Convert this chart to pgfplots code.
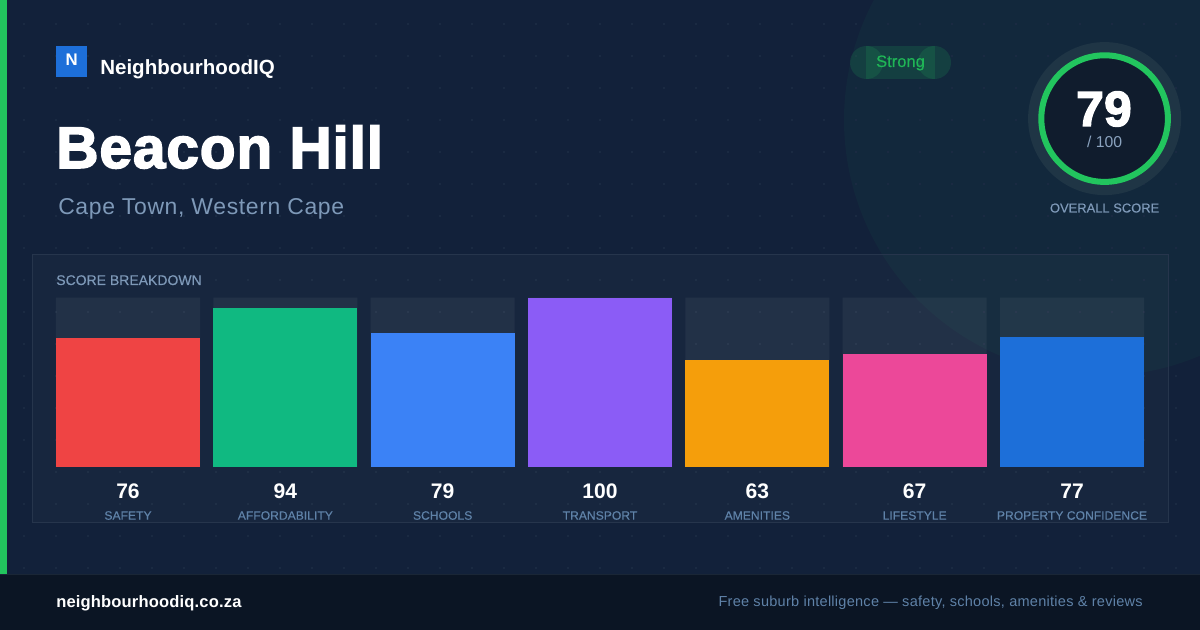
\documentclass[border=0pt]{standalone}
\usepackage{pgfplots}
\pgfplotsset{compat=1.18}
\usepackage{fontspec}
\setmainfont{Liberation Sans}
\newfontfamily\blackf{Liberation Sans}[UprightFont=* Bold,FakeBold=2.6,LetterSpace=1.4]
\newfontfamily\numf{Liberation Sans}[UprightFont=* Bold,FakeBold=3.0,LetterSpace=1.0]
\newfontfamily\subf{Liberation Sans}[LetterSpace=2.8]
\newfontfamily\medf{Liberation Sans}[FakeBold=0.35]
\newfontfamily\footf{Liberation Sans}[LetterSpace=1.8]
\newfontfamily\urlf{Liberation Sans}[UprightFont=* Bold,LetterSpace=1.0]
\definecolor{bgc}{HTML}{12213A}
\definecolor{circ}{HTML}{12283C}
\definecolor{dotc}{HTML}{1A2A42}
\definecolor{panelb}{HTML}{26354C}
\definecolor{foot}{HTML}{0B1524}
\definecolor{footb}{HTML}{1A2636}
\definecolor{gr}{HTML}{22C55E}
\definecolor{subc}{HTML}{7E99B8}
\definecolor{labc}{HTML}{5F82A8}
\definecolor{halo}{HTML}{1F3545}
\definecolor{inner}{HTML}{101C2D}
\definecolor{s1}{HTML}{EF4444}
\definecolor{s2}{HTML}{10B981}
\definecolor{s3}{HTML}{3B82F6}
\definecolor{s4}{HTML}{8B5CF6}
\definecolor{s5}{HTML}{F59E0B}
\definecolor{s6}{HTML}{EC4899}
\definecolor{s7}{HTML}{1D6FD9}
\pgfplotstableread{
idx value
0 76
1 94
2 79
3 100
4 63
5 67
6 77
}\scores
\begin{document}
\begin{tikzpicture}[x=0.75pt,y=-0.75pt]
\clip (0,0) rectangle (1200,630);
\fill[bgc] (0,0) rectangle (1200,630);
\fill[circ] (1100,120) circle (256);
\foreach \i in {0,...,36}{\foreach \j in {0,...,17}{
  \fill[dotc] ({24+32*\i-1},{24+32*\j-1}) rectangle ++(2,2);}}
\fill[white,fill opacity=0.025] (32.5,254.5) rectangle (1168.5,522.5);
\draw[panelb,line width=0.75pt] (32.5,254.5) rectangle (1168.5,522.5);
\fill[gr] (0,0) rectangle (7,574);
\fill[foot] (0,574) rectangle (1200,630);
\fill[footb] (0,574) rectangle (1200,575);
% brand
\fill[s7] (56,46) rectangle (87,77);
\node[white,font=\fontsize{12.6}{15}\selectfont\bfseries] at (71.7,60) {N};
\node[white,anchor=base west,inner sep=0pt,font=\fontsize{15.4}{18}\selectfont\bfseries] at (100,74.5) {NeighbourhoodIQ};
\node[white,anchor=base west,font=\fontsize{44}{50}\blackf,inner sep=0pt] at (56,168) {Beacon Hill};
\node[subc,anchor=base west,font=\fontsize{17.2}{20}\subf,inner sep=0pt] at (58,214.5) {Cape Town, Western Cape};
% pill
\fill[gr,fill opacity=0.15] (866,46) rectangle (935,79);
\fill[gr,fill opacity=0.15] (866.5,62.5) circle (16.5);
\fill[gr,fill opacity=0.15] (934.5,62.5) circle (16.5);
\node[gr!92!black,font=\fontsize{12.4}{14}\medf,inner sep=0pt,anchor=base] at (900.5,67) {Strong};
% ring
\fill[halo] (1104.6,118.6) circle (76.5);
\fill[inner] (1104.6,118.6) circle (62);
\draw[gr,line width=4.5pt] (1104.6,118.6) circle (63.3);
\node[white,font=\fontsize{37}{40}\numf,inner sep=0pt,anchor=base] at (1104,126) {79};
\node[subc!90!white,font=\fontsize{11.8}{14}\selectfont,inner sep=0pt,anchor=base] at (1104.6,147.5) {/ 100};
\node[subc,font=\fontsize{9.7}{12}\medf,inner sep=0pt,anchor=base] at (1104.6,212.5) {OVERALL SCORE};
\node[subc,anchor=base west,font=\fontsize{10.5}{12}\medf,inner sep=0pt] at (56,285) {SCORE BREAKDOWN};
% footer
\node[white,anchor=base west,font=\fontsize{12.4}{14}\urlf,inner sep=0pt] at (56,608) {neighbourhoodiq.co.za};
\node[labc,anchor=base east,font=\fontsize{10.9}{14}\footf,inner sep=0pt] at (1143,607) {Free suburb intelligence — safety, schools, amenities \& reviews};
% chart
\begin{axis}[
  at={(37pt,-350.25pt)},anchor=south west,
  scale only axis,width=826pt,height=127pt,
  xmin=-0.5,xmax=6.5,ymin=0,ymax=100,
  axis line style={draw=none},tick style={draw=none},
  ytick=\empty,
  xtick={0,1,2,3,4,5,6},
  xticklabels={SAFETY,AFFORDABILITY,SCHOOLS,TRANSPORT,AMENITIES,LIFESTYLE,PROPERTY CONFIDENCE},
  xticklabel style={labc,font=\fontsize{9.1}{11}\medf,inner sep=0pt,anchor=base,yshift=-35.25pt},
  clip=false,
  ybar,bar width=108pt,bar shift=0pt,
]
\addplot[draw=none,fill=white,fill opacity=0.05] coordinates {(0,100)(1,100)(2,100)(3,100)(4,100)(5,100)(6,100)};
\addplot[draw=none,fill=s1] coordinates {(0,76)};
\addplot[draw=none,fill=s2] coordinates {(1,94)};
\addplot[draw=none,fill=s3] coordinates {(2,79)};
\addplot[draw=none,fill=s4] coordinates {(3,100)};
\addplot[draw=none,fill=s5] coordinates {(4,63)};
\addplot[draw=none,fill=s6] coordinates {(5,67)};
\addplot[draw=none,fill=s7] coordinates {(6,77)};
\pgfplotstableforeachcolumnelement{value}\of\scores\as\val{%
  \edef\tmp{\noexpand\node[white,font=\noexpand\fontsize{15.8}{18}\noexpand\selectfont\noexpand\bfseries,anchor=base,inner sep=0pt] at (axis cs:\pgfplotstablerow,-18.6) {\val};}\tmp}
\end{axis}
\end{tikzpicture}
\end{document}
